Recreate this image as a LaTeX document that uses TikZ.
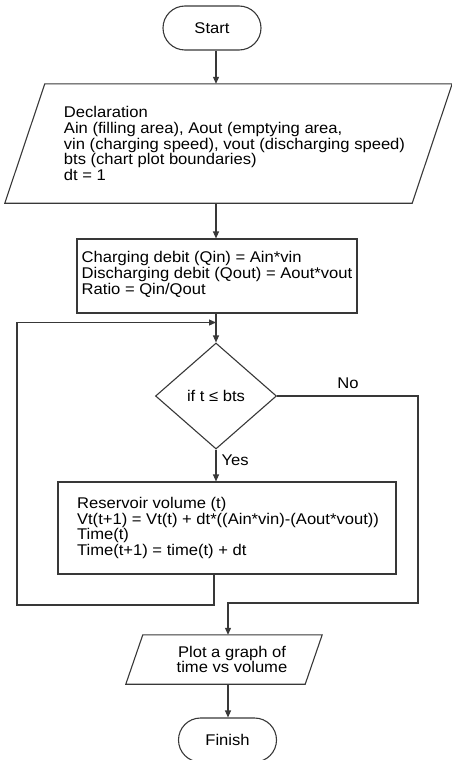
\documentclass[tikz,border=0pt]{standalone}
\usepackage{fontspec}
\setmainfont[FakeStretch=1.07]{Liberation Sans}
\usetikzlibrary{shapes.geometric,shapes.misc,arrows.meta}
\tikzset{
  ln/.style={draw=black!78, line width=1.1pt},
  arr/.style={ln, -{Triangle[length=7pt,width=6pt]}},
  term/.style={ln, rounded rectangle, minimum width=98pt, minimum height=44pt, inner sep=0pt},
  iobody/.style={rectangle, inner sep=0pt},
  proc/.style={ln, rectangle, inner sep=2pt},
  dec/.style={ln, diamond, inner sep=0pt, minimum width=121pt, minimum height=106pt},
  txt/.style={align=left, inner sep=0pt},
  lbl/.style={inner sep=0pt}
}
\begin{document}
\begin{tikzpicture}[x=1pt,y=-1pt,font=\fontsize{15.5}{15.7}\selectfont]
\useasboundingbox (0,0) rectangle (452,760);
\node[term] (start) at (212,28) {Start};
% Declaration (parallelogram)
\node[iobody, minimum width=407pt, minimum height=119pt,
      label={[txt, xshift=6pt]center:{Declaration\\Ain (filling area), Aout (emptying area,\\vin (charging speed), vout (discharging speed)\\bts (chart plot boundaries)\\dt = 1}}] (decl) at (228.5,143.5) {};
\draw[ln] ([xshift=-20pt]decl.south west) -- ([xshift=20pt]decl.north west)
  -- ([xshift=20pt]decl.north east) -- ([xshift=-20pt]decl.south east) -- cycle;
\node[proc, minimum width=280pt, minimum height=74pt,
      label={[txt, yshift=1.5pt]center:{Charging debit (Qin) = Ain*vin\\Discharging debit (Qout) = Aout*vout\\Ratio = Qin/Qout}}] (calc) at (217,276) {};
\node[dec] (cond) at (216,396) {if t ≤ bts};
\node[proc, minimum width=338pt, minimum height=92pt,
      label={[txt, xshift=1pt]center:{Reservoir volume (t)\\Vt(t+1) = Vt(t) + dt*((Ain*vin)-(Aout*vout))\\Time(t)\\Time(t+1) = time(t) + dt}}] (upd) at (227,528) {};
% Plot (parallelogram)
\node[iobody, minimum width=179pt, minimum height=49pt,
      label={[align=center, inner sep=0pt, xshift=8pt]center:{Plot a graph of\\time vs volume}}] (plot) at (224,659.5) {};
\draw[ln] ([xshift=-8.5pt]plot.south west) -- ([xshift=8.5pt]plot.north west)
  -- ([xshift=8.5pt]plot.north east) -- ([xshift=-8.5pt]plot.south east) -- cycle;
\node[term] (finish) at (227.5,740) {Finish};
\coordinate (join) at (216,322.5);
\coordinate (loopA) at (214,605);
\coordinate (loopB) at (17,605);
\coordinate (loopC) at (17,322.5);
\coordinate (noA) at (418,396);
\coordinate (noB) at (418,603);
\coordinate (noC) at (228,603);
\draw[arr] (start.south -| 216,0) -- (decl.north -| 216,0);
\draw[arr] (decl.south -| 216,0) -- (calc.north -| 216,0);
\draw[arr] (calc.south -| cond.north) -- (cond.north);
\draw[arr] (cond.south) -- (upd.north -| cond.south) node[lbl, pos=0.35, right=5pt] {Yes};
\draw[arr] (upd.south -| loopA) -- (loopA) -- (loopB) -- (loopC) -- (join);
\draw[arr] (cond.east) -- (noA) -- (noB) -- (noC) -- (plot.north -| noC);
\node[lbl] (nolbl) at (348,383) {No};
\draw[arr] (plot.south -| noC) -- (finish.north -| noC);
\end{tikzpicture}
\end{document}
